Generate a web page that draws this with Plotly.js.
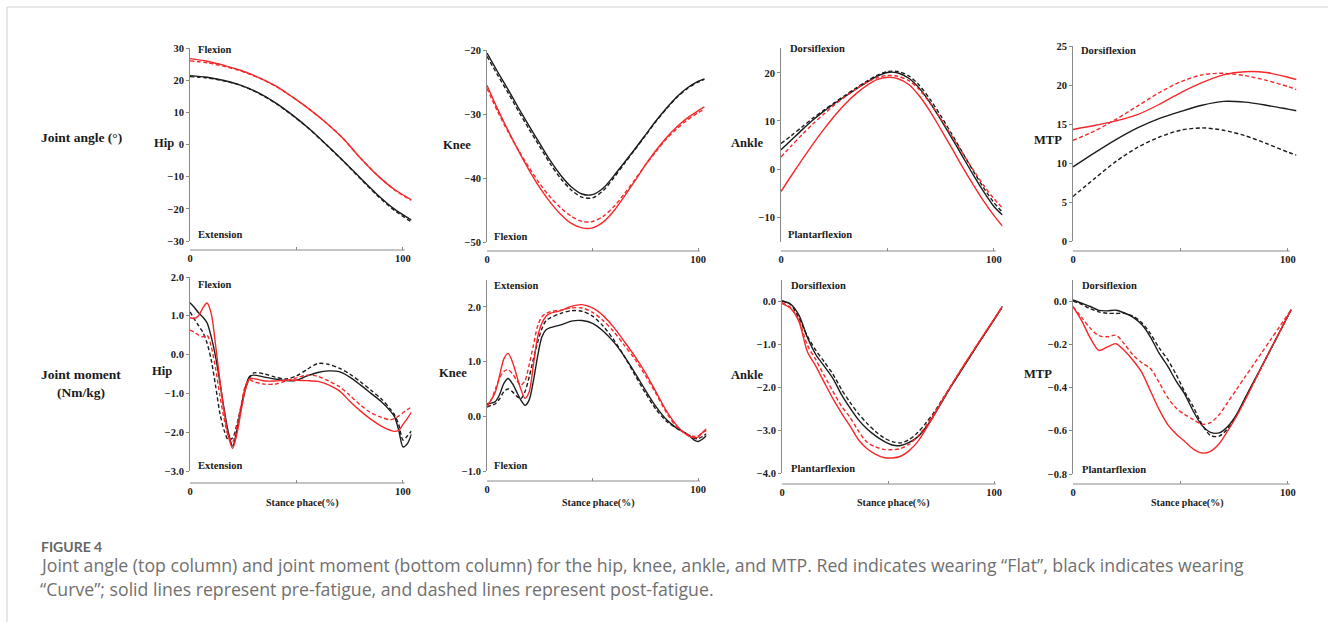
<!DOCTYPE html>
<html>
<head>
<meta charset="utf-8">
<script src="https://cdn.plot.ly/plotly-3.0.1.min.js"></script>
<style>
html,body{margin:0;padding:0;background:#fff;}
#chart{width:1328px;height:622px;}
</style>
</head>
<body>
<div id="chart"></div>
<script>
// ---------------- DATA ----------------
// Joint angle – Hip
const hipAngleX = [0,8,16,24,32,40,48,56,64,72,80,88,96,104];
const hipAngleFlatPre = [26.7,25.9,24.6,23.0,20.9,18.3,14.8,11.0,6.7,1.8,-4.2,-9.6,-14.0,-17.2];
const hipAngleFlatPost = [26.0,25.4,24.3,22.8,20.8,18.2,14.8,11.0,6.7,1.8,-4.2,-9.6,-14.1,-17.4];
const hipAngleCurvePre = [21.4,20.9,19.9,18.4,16.1,13.0,9.2,4.9,0.0,-5.1,-10.4,-15.6,-20.1,-23.5];
const hipAngleCurvePost = [21.1,20.7,19.8,18.3,16.0,12.9,9.1,4.8,-0.1,-5.2,-10.6,-15.9,-20.5,-24.1];

// Joint angle – Knee
const kneeAngleX = [0,5,10,15,20,25,30,35,40,45,50,55,60,65,70,75,80,85,90,95,100,103];
const kneeAngleCurvePre = [-20.5,-23.4,-26.2,-29.1,-31.9,-34.6,-37.3,-39.6,-41.4,-42.5,-42.6,-41.6,-39.7,-37.6,-35.5,-33.3,-31.1,-29.1,-27.3,-25.9,-24.9,-24.5];
const kneeAngleCurvePost = [-21.0,-23.9,-26.7,-29.6,-32.4,-35.1,-37.8,-40.1,-41.9,-43.0,-43.1,-42.0,-40.0,-37.8,-35.6,-33.4,-31.2,-29.2,-27.4,-26.0,-25.0,-24.6];
const kneeAngleFlatPre = [-25.5,-29.2,-32.6,-35.8,-38.8,-41.5,-43.8,-45.7,-47.1,-47.8,-47.8,-46.9,-45.2,-42.9,-40.5,-38.0,-35.7,-33.7,-32.0,-30.6,-29.5,-28.9];
const kneeAngleFlatPost = [-26.0,-29.6,-32.8,-35.7,-38.4,-40.9,-43.0,-44.7,-46.0,-46.8,-46.8,-46.0,-44.5,-42.5,-40.3,-38.0,-35.9,-33.9,-32.3,-30.9,-29.8,-29.3];

// Joint angle – Ankle
const ankleAngleX = [0,5,10,15,20,25,30,35,40,45,50,55,60,65,70,75,80,85,90,95,100,104];
const ankleAngleCurvePre = [4.0,6.1,8.2,10.2,12.0,13.6,15.1,16.6,18.0,19.3,20.1,20.0,18.9,16.8,13.8,10.3,6.6,2.8,-1.0,-4.6,-7.8,-9.6];
const ankleAngleCurvePost = [5.3,7.0,8.8,10.6,12.2,13.8,15.3,16.8,18.2,19.5,20.3,20.3,19.4,17.4,14.5,11.1,7.4,3.6,-0.2,-3.8,-7.0,-9.0];
const ankleAngleFlatPre = [-4.7,-1.3,2.0,5.2,8.2,11.0,13.5,15.6,17.3,18.6,19.1,18.8,17.6,15.2,12.0,8.3,4.5,0.6,-3.1,-6.6,-9.7,-11.9];
const ankleAngleFlatPost = [2.5,4.9,7.2,9.4,11.4,13.3,15.0,16.6,18.0,19.0,19.5,19.3,18.4,16.5,13.7,10.5,7.0,3.5,0.0,-3.3,-6.2,-8.1];

// Joint angle – MTP
const mtpAngleX = [0,10,20,30,40,50,60,70,80,90,100,104];
const mtpAngleFlatPre = [14.3,14.8,15.4,16.2,17.5,19.0,20.3,21.3,21.7,21.6,21.0,20.7];
const mtpAngleFlatPost = [12.9,14.1,15.6,17.3,19.0,20.4,21.3,21.5,21.2,20.6,19.8,19.4];
const mtpAngleCurvePre = [9.5,11.3,13.0,14.5,15.7,16.6,17.4,17.9,17.8,17.4,16.9,16.7];
const mtpAngleCurvePost = [5.7,8.0,10.2,12.0,13.3,14.2,14.5,14.2,13.5,12.5,11.4,11.0];

// Joint moment – Hip
const hipMomX = [0,2,4,6,8,10,12,14,16,18,20,22,24,26,28,30,35,40,45,50,55,60,65,70,75,80,85,90,94,96,98,100,102,104];
const hipMomCurvePre = [1.34,1.22,1.08,0.97,0.82,0.45,-0.05,-0.7,-1.4,-2.0,-2.36,-1.95,-1.35,-0.85,-0.56,-0.53,-0.58,-0.63,-0.67,-0.66,-0.55,-0.46,-0.42,-0.44,-0.58,-0.78,-1.0,-1.22,-1.45,-1.6,-1.95,-2.38,-2.3,-2.05];
const hipMomCurvePost = [1.1,0.92,0.75,0.58,0.3,-0.15,-0.8,-1.5,-1.95,-2.2,-2.15,-1.8,-1.35,-0.9,-0.6,-0.47,-0.5,-0.58,-0.63,-0.55,-0.38,-0.23,-0.25,-0.35,-0.5,-0.7,-0.92,-1.15,-1.4,-1.55,-1.8,-2.2,-2.1,-1.97];
const hipMomFlatPre = [0.95,0.93,1.0,1.2,1.33,1.05,0.25,-0.65,-1.45,-2.1,-2.42,-2.05,-1.45,-0.9,-0.62,-0.62,-0.68,-0.68,-0.66,-0.66,-0.67,-0.69,-0.78,-0.93,-1.2,-1.45,-1.67,-1.85,-1.95,-1.98,-1.95,-1.8,-1.65,-1.48];
const hipMomFlatPost = [0.63,0.58,0.5,0.46,0.5,0.2,-0.35,-1.05,-1.65,-2.1,-2.25,-1.85,-1.3,-0.8,-0.65,-0.7,-0.76,-0.76,-0.68,-0.6,-0.53,-0.56,-0.68,-0.82,-1.05,-1.3,-1.5,-1.62,-1.68,-1.65,-1.58,-1.5,-1.42,-1.35];

// Joint moment – Knee
const kneeMomX = [0,2,4,6,8,10,12,14,16,18,20,22,24,26,28,30,35,40,45,50,55,60,65,70,75,80,85,90,95,98,100,102,104];
const kneeMomFlatPre = [0.2,0.3,0.45,0.75,1.05,1.15,1.0,0.75,0.5,0.33,0.45,0.95,1.45,1.7,1.83,1.88,1.93,2.01,2.04,1.98,1.84,1.63,1.37,1.1,0.8,0.45,0.1,-0.17,-0.35,-0.39,-0.38,-0.3,-0.23];
const kneeMomFlatPost = [0.17,0.3,0.5,0.7,0.82,0.85,0.78,0.66,0.57,0.65,0.95,1.3,1.65,1.82,1.88,1.91,1.94,1.98,1.98,1.9,1.75,1.55,1.3,1.05,0.75,0.42,0.07,-0.2,-0.33,-0.37,-0.36,-0.3,-0.26];
const kneeMomCurvePre = [0.23,0.24,0.27,0.4,0.6,0.69,0.6,0.45,0.3,0.2,0.3,0.65,1.1,1.45,1.58,1.62,1.67,1.74,1.75,1.7,1.56,1.36,1.1,0.8,0.48,0.18,-0.06,-0.22,-0.33,-0.43,-0.46,-0.42,-0.35];
const kneeMomCurvePost = [0.17,0.2,0.23,0.32,0.45,0.5,0.45,0.37,0.32,0.45,0.72,1.05,1.35,1.6,1.75,1.8,1.88,1.93,1.92,1.83,1.65,1.4,1.1,0.76,0.43,0.13,-0.09,-0.22,-0.33,-0.4,-0.41,-0.37,-0.32];

// Joint moment – Ankle
const ankleMomX = [0,4,8,12,16,20,24,28,32,36,40,44,48,52,56,60,64,68,72,76,80,84,88,92,96,100,104];
const ankleMomCurvePre = [0.0,-0.07,-0.33,-0.85,-1.25,-1.52,-1.8,-2.17,-2.48,-2.76,-2.97,-3.13,-3.26,-3.35,-3.36,-3.29,-3.16,-2.93,-2.63,-2.3,-1.97,-1.66,-1.35,-1.04,-0.74,-0.44,-0.13];
const ankleMomCurvePost = [0.0,-0.08,-0.4,-0.82,-1.15,-1.42,-1.7,-2.05,-2.35,-2.62,-2.84,-3.03,-3.18,-3.27,-3.3,-3.22,-3.06,-2.83,-2.57,-2.26,-1.95,-1.64,-1.34,-1.03,-0.73,-0.43,-0.13];
const ankleMomFlatPre = [-0.06,-0.17,-0.48,-1.18,-1.52,-1.9,-2.27,-2.6,-2.9,-3.22,-3.43,-3.56,-3.64,-3.65,-3.61,-3.48,-3.27,-2.97,-2.64,-2.28,-1.95,-1.63,-1.32,-1.02,-0.72,-0.42,-0.12];
const ankleMomFlatPost = [-0.04,-0.15,-0.45,-1.03,-1.37,-1.74,-2.1,-2.44,-2.7,-3.02,-3.28,-3.39,-3.45,-3.46,-3.43,-3.33,-3.15,-2.9,-2.6,-2.27,-1.95,-1.64,-1.33,-1.03,-0.73,-0.43,-0.13];

// Joint moment – MTP
const mtpMomX = [0,4,8,12,16,20,24,28,32,36,40,44,48,52,56,60,64,68,72,76,80,84,88,92,96,101.5];
const mtpMomCurvePre = [0.005,-0.01,-0.025,-0.043,-0.045,-0.042,-0.055,-0.075,-0.108,-0.165,-0.24,-0.3,-0.37,-0.43,-0.51,-0.575,-0.607,-0.61,-0.58,-0.526,-0.45,-0.374,-0.298,-0.222,-0.145,-0.04];
const mtpMomCurvePost = [0.0,-0.015,-0.035,-0.05,-0.056,-0.057,-0.057,-0.07,-0.1,-0.15,-0.215,-0.27,-0.34,-0.42,-0.49,-0.57,-0.622,-0.625,-0.59,-0.53,-0.455,-0.378,-0.3,-0.223,-0.146,-0.04];
const mtpMomFlatPre = [-0.026,-0.09,-0.17,-0.228,-0.212,-0.197,-0.23,-0.275,-0.33,-0.415,-0.5,-0.57,-0.615,-0.65,-0.685,-0.703,-0.695,-0.66,-0.6,-0.535,-0.46,-0.38,-0.3,-0.223,-0.146,-0.04];
const mtpMomFlatPost = [-0.026,-0.075,-0.125,-0.16,-0.165,-0.158,-0.2,-0.25,-0.285,-0.312,-0.375,-0.445,-0.495,-0.525,-0.548,-0.57,-0.562,-0.526,-0.468,-0.41,-0.352,-0.294,-0.236,-0.178,-0.12,-0.04];

// Tick labels
const angleTicks = {
  hip: [-30,-20,-10,0,10,20,30],
  knee: [-50,-40,-30,-20],
  ankle: [-10,0,10,20],
  mtp: [0,5,10,15,20,25]
};
const momentTicks = {
  hip: [-3,-2,-1,0,1,2],
  knee: [-1,0,1,2],
  ankle: [-4,-3,-2,-1,0],
  mtp: [-0.8,-0.6,-0.4,-0.2,0]
};
const xTickVals = [0,50,100];
const xTickText = ['0','','100'];

// ---------------- LAYOUT HELPERS ----------------
const W = 1328, H = 622;
const px = x => x / W;
const py = y => 1 - y / H;

const RED = '#f5282a', BLACK = '#1c1c1c', AXIS = '#8a8a8a';
const SERIF = '"Liberation Serif", "Times New Roman", serif';

const panels = [
  {x: hipAngleX, fp: hipAngleFlatPre, fq: hipAngleFlatPost, cp: hipAngleCurvePre, cq: hipAngleCurvePost,
   x0:190, x1:411.5, yt:48, yb:241, xl:250, range:[-30,30], ticks: angleTicks.hip, fmt:'d'},
  {x: kneeAngleX, fp: kneeAngleFlatPre, fq: kneeAngleFlatPost, cp: kneeAngleCurvePre, cq: kneeAngleCurvePost,
   x0:487, x1:706.5, yt:50, yb:242, xl:251, range:[-50,-20], ticks: angleTicks.knee, fmt:'d'},
  {x: ankleAngleX, fp: ankleAngleFlatPre, fq: ankleAngleFlatPost, cp: ankleAngleCurvePre, cq: ankleAngleCurvePost,
   x0:781, x1:1002.5, yt:48, yb:242, xl:251, range:[-15.2,25.2], ticks: angleTicks.ankle, fmt:'d'},
  {x: mtpAngleX, fp: mtpAngleFlatPre, fq: mtpAngleFlatPost, cp: mtpAngleCurvePre, cq: mtpAngleCurvePost,
   x0:1073, x1:1296.5, yt:46, yb:241, xl:251, range:[0,25], ticks: angleTicks.mtp, fmt:'d'},
  {x: hipMomX, fp: hipMomFlatPre, fq: hipMomFlatPost, cp: hipMomCurvePre, cq: hipMomCurvePost,
   x0:190, x1:411.5, yt:277, yb:471, xl:483, range:[-3,2], ticks: momentTicks.hip, fmt:'.1f'},
  {x: kneeMomX, fp: kneeMomFlatPre, fq: kneeMomFlatPost, cp: kneeMomCurvePre, cq: kneeMomCurvePost,
   x0:487, x1:706.5, yt:279.5, yb:471, xl:481, range:[-1,2.5], ticks: momentTicks.knee, fmt:'.1f'},
  {x: ankleMomX, fp: ankleMomFlatPre, fq: ankleMomFlatPost, cp: ankleMomCurvePre, cq: ankleMomCurvePost,
   x0:782, x1:1002.5, yt:279.5, yb:473, xl:484, range:[-4,0.5], ticks: momentTicks.ankle, fmt:'.1f'},
  {x: mtpMomX, fp: mtpMomFlatPre, fq: mtpMomFlatPost, cp: mtpMomCurvePre, cq: mtpMomCurvePost,
   x0:1073, x1:1296.5, yt:279.5, yb:474, xl:484, range:[-0.8,0.1], ticks: momentTicks.mtp, fmt:'.1f'}
];

const traces = [];
const layout = {
  width: W, height: H,
  margin: {l:0, r:0, t:0, b:0},
  paper_bgcolor: '#ffffff',
  plot_bgcolor: 'rgba(0,0,0,0)',
  showlegend: false,
  annotations: [],
  shapes: []
};

const tickFont = {family: SERIF, size: 10.5, color: '#1a1a1a', weight: 'bold'};

panels.forEach((p, i) => {
  const n = i + 1;
  const xa = n === 1 ? 'x' : 'x' + n;
  const ya = n === 1 ? 'y' : 'y' + n;
  const xk = n === 1 ? 'xaxis' : 'xaxis' + n;
  const yk = n === 1 ? 'yaxis' : 'yaxis' + n;

  const series = [
    {y: p.cp, color: BLACK, dash: 'solid'},
    {y: p.cq, color: BLACK, dash: '4px,2.5px'},
    {y: p.fp, color: RED, dash: 'solid'},
    {y: p.fq, color: RED, dash: '4px,2.5px'}
  ];
  series.forEach(s => {
    traces.push({
      type: 'scatter', mode: 'lines', x: p.x, y: s.y, xaxis: xa, yaxis: ya,
      line: {color: s.color, width: 1.4, dash: s.dash, shape: 'spline', smoothing: 0.8},
      hoverinfo: 'skip'
    });
  });

  layout[xk] = {
    domain: [px(p.x0), px(p.x1)], range: [0, 104], anchor: 'free', position: py(p.xl),
    showline: false, showgrid: false, zeroline: false,
    ticks: 'inside', ticklen: 3, tickcolor: AXIS, tickwidth: 1,
    tickmode: 'array', tickvals: xTickVals, ticktext: xTickText,
    tickfont: tickFont, fixedrange: true
  };
  layout[yk] = {
    domain: [py(p.yb), py(p.yt)], range: p.range, anchor: xa,
    showline: true, linecolor: AXIS, linewidth: 1, showgrid: false, zeroline: false,
    ticks: 'outside', ticklen: 3, tickcolor: AXIS, tickwidth: 1,
    tickmode: 'array', tickvals: p.ticks, tickformat: p.fmt,
    tickfont: tickFont, fixedrange: true
  };
  layout.shapes.push({
    type: 'line', xref: xa, yref: 'paper', x0: 0, x1: 100.8, y0: py(p.xl), y1: py(p.xl),
    line: {color: AXIS, width: 1}
  });
});

// card border
layout.shapes.push({
  type: 'rect', xref: 'paper', yref: 'paper', x0: px(7), x1: px(1340), y0: py(640), y1: py(7),
  line: {color: '#d0d0d0', width: 1}, fillcolor: 'rgba(0,0,0,0)', layer: 'below'
});

function txt(text, x, y, size, opts) {
  opts = opts || {};
  layout.annotations.push({
    text: text, xref: 'paper', yref: 'paper', x: px(x), y: py(y),
    xanchor: opts.anchor || 'left', yanchor: 'middle', showarrow: false,
    font: {family: opts.family || SERIF, size: size, color: opts.color || '#1a1a1a', weight: opts.weight || 'bold'},
    align: opts.anchor || 'left'
  });
}

// direction labels
txt('Flexion', 196, 50, 10.5);
txt('Extension', 196, 234, 10.5);
txt('Flexion', 492, 236, 10.5);
txt('Dorsiflexion', 788, 48, 10.5);
txt('Plantarflexion', 786, 234, 10.5);
txt('Dorsiflexion', 1079, 51, 10.5);
txt('Flexion', 196, 284, 10.5);
txt('Extension', 196, 465, 10.5);
txt('Extension', 492, 285, 10.5);
txt('Flexion', 492, 466, 10.5);
txt('Dorsiflexion', 789, 285, 10.5);
txt('Plantarflexion', 789, 468, 10.5);
txt('Dorsiflexion', 1080, 285, 10.5);
txt('Plantarflexion', 1080, 469, 10.5);

// joint labels
txt('Hip', 152, 143, 12.5);
txt('Knee', 441, 145, 12.5);
txt('Ankle', 729, 143, 12.5);
txt('MTP', 1032, 140, 12.5);
txt('Hip', 150, 371, 12.5);
txt('Knee', 437, 373, 12.5);
txt('Ankle', 729, 375, 12.5);
txt('MTP', 1022, 374, 12.5);

// row labels
txt('Joint angle (°)', 81, 137, 13.5, {anchor: 'center'});
txt('Joint moment', 81, 374, 13.5, {anchor: 'center'});
txt('(Nm/kg)', 81, 392, 13.5, {anchor: 'center'});

// x axis titles
[302, 598, 893, 1187].forEach(cx => txt('Stance phace(%)', cx, 503, 10, {anchor: 'center'}));

// caption
const CAP = '"Open Sans", "Noto Sans", sans-serif';
txt('FIGURE 4', 39, 546, 14, {family: 'Lato, sans-serif', color: '#666666', weight: 'bold'});
txt('Joint angle (top column) and joint moment (bottom column) for the hip, knee, ankle, and MTP. Red indicates wearing “Flat”, black indicates wearing',
    38, 565, 17.7, {family: CAP, color: '#707070', weight: 'normal'});
txt('“Curve”; solid lines represent pre-fatigue, and dashed lines represent post-fatigue.',
    38, 589, 17.7, {family: CAP, color: '#707070', weight: 'normal'});

Plotly.newPlot('chart', traces, layout, {staticPlot: true, displayModeBar: false});
</script>
</body>
</html>
